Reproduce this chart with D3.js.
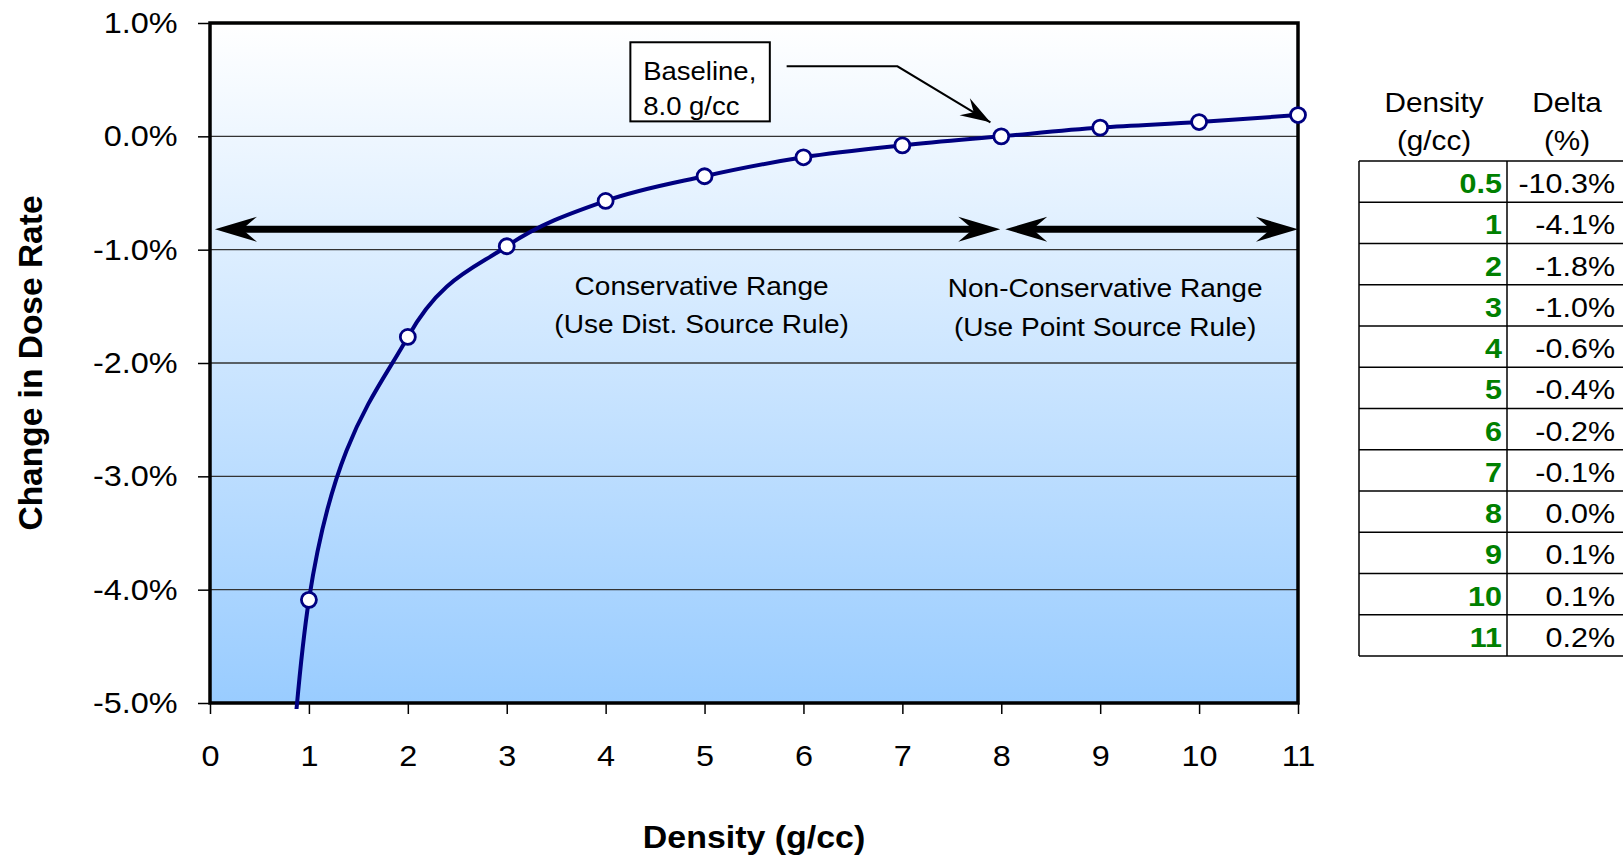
<!DOCTYPE html>
<html>
<head>
<meta charset="utf-8">
<script src="https://cdn.jsdelivr.net/npm/d3@7"></script>
<style>
	body { margin: 0; background: #fff; }
	svg { display: block; }
</style>
</head>
<body>
<div id="chart"></div>
<script>
// Density (g/cc) and change in dose rate (%)
const density = [0.5, 1, 2, 3, 4, 5, 6, 7, 8, 9, 10, 11];
const deltaPct = [-10.3, -4.09, -1.77, -0.97, -0.57, -0.352, -0.185, -0.08, 0, 0.077, 0.126, 0.188];

const xTicks = [0, 1, 2, 3, 4, 5, 6, 7, 8, 9, 10, 11];
const yTicks = [1, 0, -1, -2, -3, -4, -5];

// Range arrows (density spans) and their labels
const rangeSpans = [[0.05, 7.99], [8.04, 11]];
const rangeArrowLevel = -0.82;
const rangeLabels = [
	["Conservative Range", "(Use Dist. Source Rule)"],
	["Non-Conservative Range", "(Use Point Source Rule)"],
];
const baselineLabel = ["Baseline,", "8.0 g/cc"];
const tableHeader = [["Density", "(g/cc)"], ["Delta", "(%)"]];

const FONT = "Arial, 'Liberation Sans', sans-serif";
const SX = 1.08; // text in the original is rendered a bit wide

const width = 1623;
const height = 859;
const margin = { top: 23, right: 325, bottom: 156, left: 210 };

const x = d3.scaleLinear().domain([0, 11]).range([margin.left, width - margin.right]);
const y = d3.scaleLinear().domain([-5, 1]).range([height - margin.bottom, margin.top]);

const svg = d3
	.select("#chart")
	.append("svg")
	.attr("width", width)
	.attr("height", height)
	.style("font-family", FONT);

const defs = svg.append("defs");

// Plot background gradient
const grad = defs
	.append("linearGradient")
	.attr("id", "bg")
	.attr("x1", 0)
	.attr("y1", 0)
	.attr("x2", 0)
	.attr("y2", 1);
grad.append("stop").attr("offset", 0).attr("stop-color", "#ffffff");
grad.append("stop").attr("offset", 1).attr("stop-color", "#99ccff");

defs
	.append("clipPath")
	.attr("id", "plot-clip")
	.append("rect")
	.attr("x", x(0))
	.attr("y", y(1))
	.attr("width", x(11) - x(0))
	.attr("height", y(-5) - y(1) + 6);

svg
	.append("rect")
	.attr("x", x(0))
	.attr("y", y(1))
	.attr("width", x(11) - x(0))
	.attr("height", y(-5) - y(1))
	.attr("fill", "url(#bg)");

// Gridlines
svg
	.append("g")
	.selectAll("line")
	.data(yTicks)
	.enter()
	.append("line")
	.attr("x1", x(0))
	.attr("x2", x(11))
	.attr("y1", (d) => y(d))
	.attr("y2", (d) => y(d))
	.attr("stroke", "#333")
	.attr("stroke-width", 1.3);

// Axes
svg
	.append("g")
	.attr("transform", `translate(0,${y(-5)})`)
	.call(d3.axisBottom(x).tickValues(xTicks).tickSize(11).tickPadding(31).tickFormat(d3.format("d")))
	.attr("font-family", FONT)
	.attr("font-size", 30)
	.call((g) => g.select(".domain").remove())
	.call((g) => g.selectAll(".tick line").attr("stroke", "#000").attr("stroke-width", 1.5))
	.call((g) => g.selectAll(".tick text").attr("fill", "#000").attr("transform", `scale(${SX},1)`));

svg
	.append("g")
	.attr("transform", `translate(${x(0)},0)`)
	.call(d3.axisLeft(y).tickValues(yTicks).tickSize(12).tickPadding(18).tickFormat((d) => d.toFixed(1) + "%"))
	.attr("font-family", FONT)
	.attr("font-size", 30)
	.call((g) => g.select(".domain").remove())
	.call((g) => g.selectAll(".tick line").attr("stroke", "#000").attr("stroke-width", 1.5))
	.call((g) => g.selectAll(".tick text").attr("fill", "#000").attr("transform", `scale(${SX},1)`));

// Plot border
svg
	.append("rect")
	.attr("x", x(0))
	.attr("y", y(1))
	.attr("width", x(11) - x(0))
	.attr("height", y(-5) - y(1))
	.attr("fill", "none")
	.attr("stroke", "#000")
	.attr("stroke-width", 3.5);

// Axis titles
svg
	.append("text")
	.attr("transform", `translate(42,${(y(1) + y(-5)) / 2}) rotate(-90)`)
	.attr("text-anchor", "middle")
	.attr("font-weight", "bold")
	.attr("font-size", 33.5)
	.text("Change in Dose Rate");

svg
	.append("text")
	.attr("transform", `translate(${(x(0) + x(11)) / 2},848) scale(1.06,1)`)
	.attr("text-anchor", "middle")
	.attr("font-weight", "bold")
	.attr("font-size", 32)
	.text("Density (g/cc)");

// Stealth style arrow head, tip at (tx, ty), pointing along (ux, uy)
function arrowHead(tx, ty, ux, uy, len, hw) {
	const bx = tx - ux * len;
	const by = ty - uy * len;
	const px = -uy;
	const py = ux;
	const nx = tx - ux * len * 0.65;
	const ny = ty - uy * len * 0.65;
	return `M${tx},${ty}L${bx + px * hw},${by + py * hw}L${nx},${ny}L${bx - px * hw},${by - py * hw}Z`;
}

// Double headed range arrows
const arrows = svg.append("g");
rangeSpans.forEach(([a, b]) => {
	const ay = y(rangeArrowLevel);
	arrows
		.append("line")
		.attr("x1", x(a) + 20)
		.attr("x2", x(b) - 20)
		.attr("y1", ay)
		.attr("y2", ay)
		.attr("stroke", "#000")
		.attr("stroke-width", 7);
	arrows.append("path").attr("d", arrowHead(x(a), ay, -1, 0, 42, 12.5)).attr("fill", "#000");
	arrows.append("path").attr("d", arrowHead(x(b), ay, 1, 0, 42, 12.5)).attr("fill", "#000");
});

// Range labels
const labelAnchors = [
	{ cx: 4.97, lines: [-1.4, -1.735] },
	{ cx: 9.05, lines: [-1.42, -1.76] },
];
rangeLabels.forEach((lines, i) => {
	lines.forEach((t, j) => {
		svg
			.append("text")
			.attr("transform", `translate(${x(labelAnchors[i].cx)},${y(labelAnchors[i].lines[j])}) scale(1.1,1)`)
			.attr("text-anchor", "middle")
			.attr("font-size", 25.5)
			.attr("fill", "#000")
			.text(t);
	});
});

// Baseline callout box and leader
svg
	.append("rect")
	.attr("x", x(4.25))
	.attr("y", y(0.83))
	.attr("width", x(5.66) - x(4.25))
	.attr("height", y(0.132) - y(0.83))
	.attr("fill", "#fff")
	.attr("stroke", "#000")
	.attr("stroke-width", 2);

baselineLabel.forEach((t, j) => {
	svg
		.append("text")
		.attr("transform", `translate(${x(4.38)},${y([0.5, 0.19][j])}) scale(1.1,1)`)
		.attr("font-size", 25)
		.attr("fill", "#000")
		.text(t);
});

const lead = [
	[x(5.83), y(0.618)],
	[x(6.95), y(0.618)],
	[x(7.89), y(0.124)],
];
svg
	.append("path")
	.attr("d", d3.line()(lead))
	.attr("fill", "none")
	.attr("stroke", "#000")
	.attr("stroke-width", 2);
{
	const [p, q] = [lead[1], lead[2]];
	const l = Math.hypot(q[0] - p[0], q[1] - p[1]);
	svg
		.append("path")
		.attr("d", arrowHead(q[0], q[1], (q[0] - p[0]) / l, (q[1] - p[1]) / l, 30, 10))
		.attr("fill", "#000");
}

// Smoothed data line
const points = density.map((d, i) => ({ d, v: deltaPct[i] }));

svg
	.append("path")
	.datum(points)
	.attr("clip-path", "url(#plot-clip)")
	.attr("fill", "none")
	.attr("stroke", "#000080")
	.attr("stroke-width", 4)
	.attr(
		"d",
		d3
			.line()
			.x((p) => x(p.d))
			.y((p) => y(p.v))
			.curve(d3.curveCardinal.tension(0))
	);

svg
	.append("g")
	.selectAll("circle")
	.data(points.filter((p) => p.v >= -5 && p.v <= 1))
	.enter()
	.append("circle")
	.attr("cx", (p) => x(p.d))
	.attr("cy", (p) => y(p.v))
	.attr("r", 7.5)
	.attr("fill", "#fff")
	.attr("stroke", "#000080")
	.attr("stroke-width", 2.8);

// Data table on the right
const tableLeft = 1359;
const tableMid = 1507;
const tableRight = 1660;
const tableTop = 161;
const rowH = 41.25;

const table = svg.append("g");

tableHeader.forEach((lines, c) => {
	const cx = c === 0 ? 1434 : 1567;
	lines.forEach((t, j) => {
		table
			.append("text")
			.attr("transform", `translate(${cx},${112 + j * 38}) scale(1.1,1)`)
			.attr("text-anchor", "middle")
			.attr("font-size", 27)
			.attr("fill", "#000")
			.text(t);
	});
});

table
	.selectAll("line.row")
	.data(d3.range(density.length + 1))
	.enter()
	.append("line")
	.attr("x1", tableLeft)
	.attr("x2", tableRight)
	.attr("y1", (i) => tableTop + i * rowH)
	.attr("y2", (i) => tableTop + i * rowH)
	.attr("stroke", "#000")
	.attr("stroke-width", 1.5);

[tableLeft, tableMid].forEach((cx) => {
	table
		.append("line")
		.attr("x1", cx)
		.attr("x2", cx)
		.attr("y1", tableTop)
		.attr("y2", tableTop + density.length * rowH)
		.attr("stroke", "#000")
		.attr("stroke-width", 1.5);
});

table
	.selectAll("text.dens")
	.data(density)
	.enter()
	.append("text")
	.attr("transform", (d, i) => `translate(1502,${tableTop + i * rowH + 32}) scale(1.07,1)`)
	.attr("text-anchor", "end")
	.attr("font-size", 28.5)
	.attr("font-weight", "bold")
	.attr("fill", "#008000")
	.text((d) => String(d));

table
	.selectAll("text.delta")
	.data(deltaPct)
	.enter()
	.append("text")
	.attr("transform", (d, i) => `translate(1615,${tableTop + i * rowH + 32}) scale(1.07,1)`)
	.attr("text-anchor", "end")
	.attr("font-size", 28.5)
	.attr("fill", "#000")
	.text((d) => d.toFixed(1) + "%");
</script>
</body>
</html>
